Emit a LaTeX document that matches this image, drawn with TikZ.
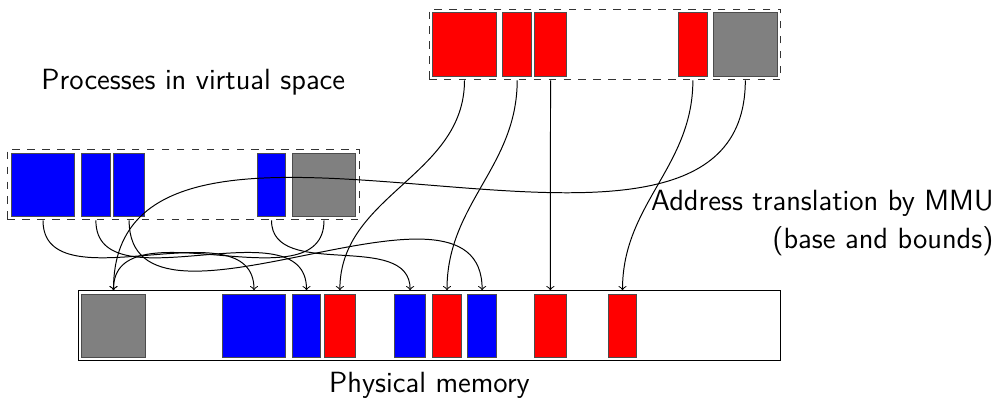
\documentclass[tikz,border=0pt]{standalone}
\usetikzlibrary{positioning}
\begin{document}
\begin{tikzpicture}[font=\sffamily\fontsize{13.3pt}{17.3pt}\selectfont,line width=0.45pt,
    blk/.style = {draw=black!70, minimum height=1.01cm, inner sep=0pt},
    big/.style = {blk, minimum width=1.02cm},
    narrow/.style = {blk, minimum width=0.455cm},
    wide/.style = {blk, minimum width=0.507cm},
    proc/.style = {draw=black!80, dash pattern=on 3.4pt off 3.4pt, minimum width=5.63cm, minimum height=1.13cm, inner sep=0pt},
    mem/.style = {draw, minimum width=11.24cm, minimum height=1.11cm, inner sep=0pt}]
      \useasboundingbox (0,0) rectangle (16,-6.4);

      % red process
      \node[proc](rp) at (9.68,-0.712){};
      \node[big,fill=red](r1) at (7.432,-0.712){};
      \node[narrow,fill=red](r2) at (8.275,-0.712){};
      \node[wide,fill=red](r3) at (8.808,-0.712){};
      \node[narrow,fill=red](r4) at (11.086,-0.712){};
      \node[big,fill=gray](r5) at (11.925,-0.712){};

      % blue process
      \node[proc](bp) at (2.933,-2.954){};
      \node[big,fill=blue](b1) at (0.688,-2.957){};
      \node[narrow,fill=blue](b2) at (1.534,-2.957){};
      \node[wide,fill=blue](b3) at (2.066,-2.957){};
      \node[narrow,fill=blue](b4) at (4.344,-2.957){};
      \node[big,fill=gray](b5) at (5.184,-2.957){};

      % physical memory
      \node[mem](pm) at (6.872,-5.206){};
      \node[big,fill=gray](p1) at (1.816,-5.21){};
      \node[big,fill=blue](p2) at (4.064,-5.21){};
      \node[narrow,fill=blue](p3) at (4.904,-5.21){};
      \node[wide,fill=red](p4) at (5.438,-5.21){};
      \node[wide,fill=blue](p5) at (6.562,-5.21){};
      \node[narrow,fill=red](p6) at (7.152,-5.21){};
      \node[narrow,fill=blue](p7) at (7.714,-5.21){};
      \node[wide,fill=red](p8) at (8.806,-5.21){};
      \node[narrow,fill=red](p9) at (9.96,-5.21){};

      \node[anchor=north,inner sep=0pt](virt) at (3.093,-1.093){Processes in virtual space};
      \node[anchor=north east,inner sep=0pt,align=right](mmu) at (15.904,-3.04)
        {Address translation by MMU\\(base and bounds)};
      \node[anchor=north,inner sep=0pt](phys) at (6.872,-5.947){Physical memory};

      \path[->]
      (b1 |- bp.south) edge[out=-90,in=90] (p2 |- pm.north)
      (b2 |- bp.south) edge[out=-90,in=90] (p3 |- pm.north)
      (b3 |- bp.south) edge[out=-90,in=90] (p7 |- pm.north)
      (b4 |- bp.south) edge[out=-90,in=90] (p5 |- pm.north)
      (b5 |- bp.south) edge[out=-90,in=90] (p1 |- pm.north)

      (r1 |- rp.south) edge[out=-90,in=90] (p4 |- pm.north)
      (r2 |- rp.south) edge[out=-90,in=90] (p6 |- pm.north)
      (r3 |- rp.south) edge[out=-90,in=90] (p8 |- pm.north)
      (r4 |- rp.south) edge[out=-90,in=90] (p9 |- pm.north)
      (r5 |- rp.south) edge[out=-90,in=90] (p1 |- pm.north)
      ;
    \end{tikzpicture}
\end{document}
